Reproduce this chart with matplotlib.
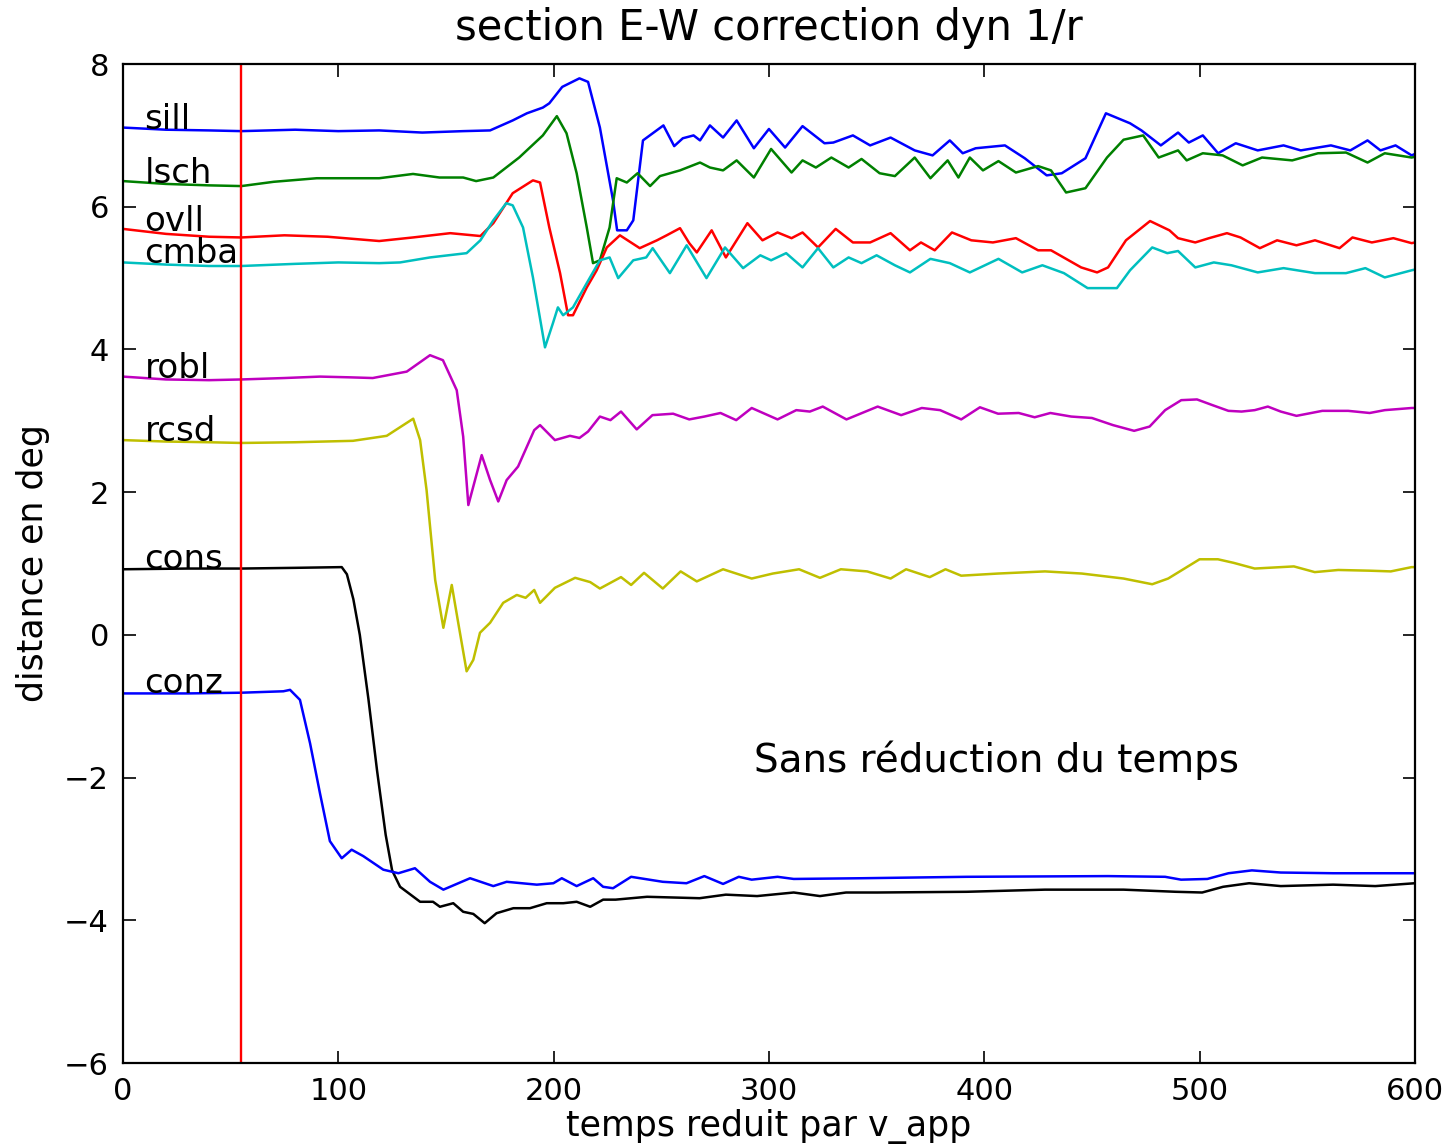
#----------------------------Importing libraries----------------------------------------

import numpy as np
import matplotlib
matplotlib.use('Agg')
import matplotlib.pyplot as plt

#--------------------------------Data-----------------------------------------------------

# sill (blue)
sill_x = [0, 20, 40, 55, 80, 100, 119, 139, 158, 170.5, 181, 187.6, 195, 198, 204, 212, 216,
          221.5, 227.6, 229.5, 234, 237, 241.5, 251, 256, 260, 265, 268, 272.6, 278.7, 285,
          293, 300, 307.5, 315.6, 325.8, 329.9, 339, 347, 356.5, 367.7, 376, 384, 390, 396,
          409.6, 418.8, 429, 436, 447, 456.5, 467.7, 473, 482, 490, 495, 501.5, 508.6, 516.8,
          527, 539, 547, 561, 570, 578, 584, 591, 598.5, 600]
sill_y = [7.11, 7.08, 7.07, 7.06, 7.08, 7.06, 7.07, 7.04, 7.06, 7.07, 7.21, 7.31, 7.39, 7.45, 7.68, 7.80, 7.75,
          7.11, 6.09, 5.67, 5.67, 5.81, 6.93, 7.14, 6.85, 6.96, 7.00, 6.93, 7.14, 6.97, 7.21,
          6.82, 7.09, 6.83, 7.13, 6.89, 6.90, 7.00, 6.86, 6.97, 6.79, 6.72, 6.93, 6.75, 6.82,
          6.86, 6.68, 6.44, 6.47, 6.68, 7.31, 7.17, 7.07, 6.86, 7.04, 6.90, 7.00, 6.75, 6.89,
          6.79, 6.86, 6.79, 6.86, 6.79, 6.93, 6.79, 6.86, 6.72, 6.74]

# lsch (green)
lsch_x = [0, 20, 40, 55, 70, 90, 105, 119, 134.7, 147, 158, 164, 172, 184, 195, 201.5, 206,
          210.7, 215.4, 218.3, 221.5, 226, 229.3, 234, 239, 244.8, 249.4, 258.7, 268, 272.6,
          278.7, 285, 293, 301, 310.5, 315.6, 321.8, 329, 337, 343, 351.4, 358.5, 367.7, 375,
          383, 388, 393.3, 399.4, 406.6, 414.7, 425, 431, 438, 447, 457, 464.7, 473.8, 481,
          490, 494, 501.5, 510.7, 520, 529, 543, 555, 568, 578, 586, 598.5, 600]
lsch_y = [6.36, 6.32, 6.30, 6.29, 6.35, 6.40, 6.40, 6.40, 6.46, 6.41, 6.41, 6.36, 6.41, 6.69, 7.00, 7.27, 7.03,
          6.47, 5.71, 5.21, 5.25, 5.71, 6.40, 6.34, 6.47, 6.29, 6.43, 6.51, 6.62, 6.55,
          6.51, 6.65, 6.41, 6.81, 6.48, 6.65, 6.55, 6.69, 6.55, 6.67, 6.47, 6.43, 6.69, 6.40,
          6.65, 6.41, 6.69, 6.51, 6.64, 6.48, 6.57, 6.51, 6.20, 6.26, 6.69, 6.94, 7.00, 6.69,
          6.79, 6.65, 6.75, 6.72, 6.58, 6.69, 6.65, 6.75, 6.76, 6.62, 6.75, 6.69, 6.70]

# ovll (red)
ovll_x = [0, 20, 40, 55, 75, 95, 119, 134.7, 152, 166, 172, 181, 190.4, 193.7, 198, 203, 206.7,
          209, 215.4, 220, 224.7, 230.8, 240, 248, 252.5, 258.7, 263, 266.5, 273.4, 280, 290,
          297, 304, 310.5, 315.6, 322.8, 331, 339, 347, 356.5, 365.5, 370.6, 377, 385, 394,
          404, 414.7, 425, 431, 445, 452.4, 457.5, 465.8, 477, 486, 490, 498, 504.4, 512.7,
          519, 528, 536, 545, 553.6, 565, 571, 580, 590, 598.5, 600]
ovll_y = [5.69, 5.62, 5.58, 5.57, 5.60, 5.58, 5.52, 5.57, 5.63, 5.59, 5.77, 6.19, 6.37, 6.34, 5.71, 5.07, 4.48,
          4.48, 4.87, 5.11, 5.43, 5.60, 5.42, 5.53, 5.60, 5.70, 5.49, 5.36, 5.67, 5.29, 5.77,
          5.53, 5.64, 5.56, 5.64, 5.43, 5.69, 5.50, 5.50, 5.63, 5.39, 5.50, 5.39, 5.64, 5.53,
          5.50, 5.56, 5.39, 5.39, 5.15, 5.08, 5.15, 5.53, 5.80, 5.67, 5.56, 5.50, 5.56, 5.63,
          5.57, 5.42, 5.53, 5.46, 5.53, 5.42, 5.57, 5.50, 5.56, 5.49, 5.50]

# cmba (cyan)
cmba_x = [0, 20, 40, 55, 80, 100, 119, 128.7, 142.6, 159.6, 166, 172, 178, 181, 185.8, 190.4,
          196, 199.7, 202, 204.4, 209, 215.4, 221.5, 226, 230, 237, 243, 246, 254, 261.8, 271,
          279.6, 288, 296, 301, 308, 315.6, 322.8, 329.9, 337, 343, 350, 358.5, 365.5, 375,
          384, 393.3, 406.6, 417.6, 427, 437, 448, 461.6, 467.7, 478, 485, 490, 498, 506.6,
          514.8, 527, 539, 553.6, 568, 577, 586, 598.5, 600]
cmba_y = [5.22, 5.19, 5.17, 5.17, 5.20, 5.22, 5.21, 5.22, 5.29, 5.35, 5.53, 5.81, 6.05, 6.02, 5.71, 5.01,
          4.03, 4.37, 4.59, 4.48, 4.59, 4.93, 5.25, 5.29, 5.00, 5.25, 5.29, 5.42, 5.07, 5.46, 5.00,
          5.43, 5.14, 5.32, 5.25, 5.35, 5.15, 5.42, 5.15, 5.29, 5.21, 5.32, 5.18, 5.08, 5.27,
          5.21, 5.08, 5.27, 5.08, 5.18, 5.07, 4.86, 4.86, 5.11, 5.43, 5.35, 5.38, 5.15, 5.22,
          5.18, 5.08, 5.14, 5.07, 5.07, 5.14, 5.01, 5.11, 5.12]

# robl (magenta)
robl_x = [0, 20, 40, 55, 75, 91.5, 105, 116, 131.8, 142.6, 148.6, 155, 158, 160.4, 163.5, 166.6,
          170.5, 174.3, 178.2, 183.5, 191, 193.7, 200.6, 207.6, 212, 216, 221.5, 226.4, 231.3,
          238.6, 245.9, 255.5, 263, 270, 277.5, 284.8, 292, 304, 312.7, 319, 325, 336, 350.5,
          361.4, 371, 379.5, 389.3, 398, 406.4, 416, 423.4, 430.7, 440.4, 450, 459.8, 469.6,
          476.8, 484, 491.5, 498.8, 506, 513.4, 519.5, 525.6, 531.7, 537.7, 545, 557, 569, 579,
          586, 598.5, 600]
robl_y = [3.62, 3.58, 3.57, 3.58, 3.60, 3.62, 3.61, 3.60, 3.69, 3.92, 3.85, 3.43, 2.78, 1.82, 2.17, 2.52,
          2.17, 1.87, 2.17, 2.36, 2.87, 2.94, 2.73, 2.79, 2.76, 2.85, 3.06, 3.01, 3.13,
          2.88, 3.08, 3.10, 3.02, 3.06, 3.11, 3.01, 3.18, 3.02, 3.15, 3.13, 3.20, 3.02, 3.20,
          3.08, 3.18, 3.15, 3.02, 3.19, 3.10, 3.11, 3.05, 3.11, 3.06, 3.04, 2.94, 2.86,
          2.92, 3.15, 3.29, 3.30, 3.22, 3.14, 3.13, 3.15, 3.20, 3.13, 3.07, 3.14, 3.14, 3.11,
          3.15, 3.18, 3.18]

# rcsd (yellow)
rcsd_x = [0, 20, 40, 55, 80, 106.8, 122.5, 134.8, 138, 141, 145, 148.8, 152.7, 155.7, 159.6,
          162.7, 165.8, 170.5, 176.6, 182.9, 187, 191, 193.7, 200.6, 210, 217, 221.5, 231.3,
          236, 242, 250.7, 259, 266.5, 278.7, 292, 301.8, 314, 323.7, 333.4, 345.6, 356.5,
          363.7, 374.7, 382, 389.3, 406.4, 428.2, 445.3, 464.7, 478, 485.4, 500, 508.5, 515.8,
          525.6, 543.8, 553.5, 564.4, 579, 588.8, 598.5, 600]
rcsd_y = [2.73, 2.71, 2.70, 2.69, 2.70, 2.72, 2.79, 3.03, 2.73, 2.03, 0.77, 0.10, 0.70, 0.17, -0.51,
          -0.35, 0.03, 0.17, 0.45, 0.56, 0.52, 0.63, 0.45, 0.66, 0.80, 0.74, 0.65, 0.81,
          0.70, 0.87, 0.65, 0.89, 0.75, 0.92, 0.79, 0.86, 0.92, 0.80, 0.92, 0.89, 0.79,
          0.92, 0.81, 0.92, 0.83, 0.86, 0.89, 0.86, 0.79, 0.71, 0.79, 1.06, 1.06, 1.01,
          0.93, 0.96, 0.88, 0.91, 0.90, 0.89, 0.95, 0.95]

# cons (black)
cons_x = [0, 30, 55, 80, 101.6, 104, 107, 110, 114, 118, 122, 125, 128.7, 138, 144, 147.2, 153.4,
          158, 162.7, 168, 173.5, 181.3, 189, 196.8, 204.5, 210.7, 217, 223, 228.8, 243.4,
          267.8, 280, 294.5, 311.5, 323.7, 335.8, 350.4, 391.8, 428.2, 464.7, 489, 501.2,
          510.9, 523, 537.7, 562, 581.6, 600]
cons_y = [0.92, 0.93, 0.93, 0.94, 0.95, 0.85, 0.50, 0.00, -0.90, -1.90, -2.80, -3.30, -3.53, -3.74, -3.74, -3.81, -3.76,
          -3.88, -3.91, -4.04, -3.90, -3.83, -3.83, -3.76, -3.76, -3.74, -3.81, -3.71, -3.71, -3.67,
          -3.69, -3.64, -3.66, -3.61, -3.66, -3.61, -3.61, -3.60, -3.57, -3.57, -3.60, -3.61,
          -3.53, -3.48, -3.52, -3.50, -3.52, -3.48]

# conz (blue)
conz_x = [0, 30, 55, 74.5, 77.6, 82.2, 86.9, 91.5, 96.1, 101.6, 106.2, 111.6, 120.9, 127.9,
          135.6, 142.6, 148.8, 161.2, 172, 178.2, 192.2, 199.9, 203.8, 210.7, 218.4, 223,
          227.6, 236, 250.7, 261.7, 270, 278.7, 286, 292, 304, 311.5, 343, 391.8, 457.4, 484,
          491.4, 503.6, 513.4, 524.3, 537.7, 562, 600]
conz_y = [-0.82, -0.82, -0.81, -0.79, -0.77, -0.91, -1.52, -2.22, -2.89, -3.13, -3.01, -3.10, -3.29, -3.34,
          -3.27, -3.46, -3.57, -3.41, -3.52, -3.46, -3.50, -3.48, -3.41, -3.52, -3.41, -3.53,
          -3.55, -3.39, -3.46, -3.48, -3.38, -3.49, -3.39, -3.43, -3.39, -3.42, -3.41, -3.39, -3.38, -3.39,
          -3.43, -3.42, -3.34, -3.30, -3.33, -3.34, -3.34]

names = ['sill', 'lsch', 'ovll', 'cmba', 'robl', 'rcsd', 'cons', 'conz']
xs = [sill_x, lsch_x, ovll_x, cmba_x, robl_x, rcsd_x, cons_x, conz_x]
ys = [sill_y, lsch_y, ovll_y, cmba_y, robl_y, rcsd_y, cons_y, conz_y]
colors = ['b', 'g', 'r', 'c', 'm', 'y', 'k', 'b']

t_marker = 55   # red vertical line
note = 'Sans réduction du temps'

#--------------------------------------Plot-----------------------------------------------

fig = plt.figure(figsize=(14.5, 11.48), dpi=100)
ax = fig.add_axes([0.0848, 0.0740, 0.8910, 0.8702])

for name, x, y, c in zip(names, xs, ys, colors):
    ax.plot(x, y, color=c, lw=1.8)
    # label sits on the curve near the left edge
    ax.text(10, np.interp(10, x, y), name, fontsize=24.5, va='baseline', ha='left')

ax.axvline(t_marker, color='r', lw=1.7)

ax.text(293, -1.75, note, fontsize=28, va='center', ha='left')

ax.set_xlim(0, 600)
ax.set_ylim(-6, 8)
ax.set_xticks(np.arange(0, 601, 100))
ax.set_yticks(np.arange(-6, 9, 2))
ax.tick_params(direction='in', top=True, right=True, length=9, width=1.2, labelsize=22, pad=10)
for s in ax.spines.values():
    s.set_linewidth(1.6)

ax.set_title('section E-W correction dyn 1/r', fontsize=30, pad=17)
ax.set_xlabel('temps reduit par v_app', fontsize=25, labelpad=2)
ax.set_ylabel('distance en deg', fontsize=25, labelpad=10)

plt.savefig('out.png', dpi=100)
